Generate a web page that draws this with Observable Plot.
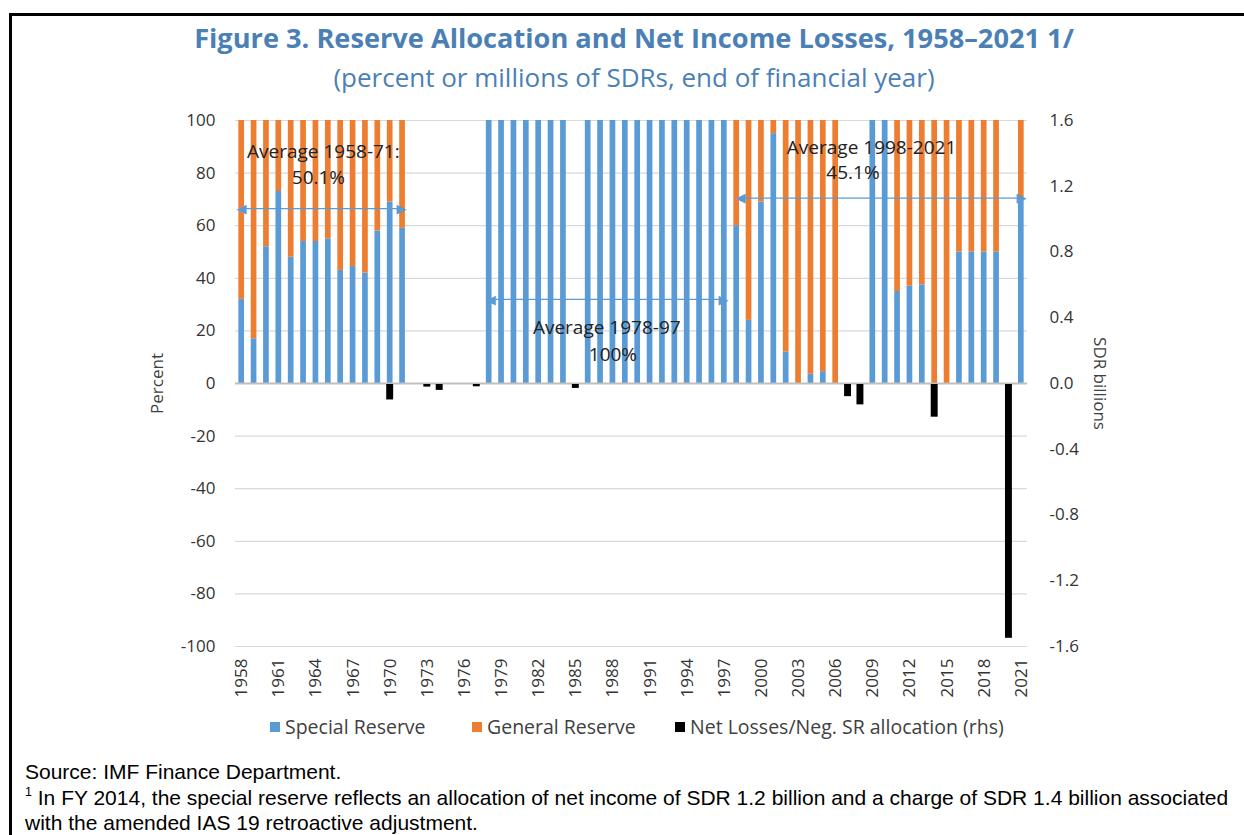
<!DOCTYPE html>
<html>
<head>
<meta charset="utf-8">
<script src="https://cdn.jsdelivr.net/npm/d3@7"></script>
<script src="https://cdn.jsdelivr.net/npm/@observablehq/plot@0.6"></script>
<style>
  html, body { margin: 0; padding: 0; background: #fff; }
  body { width: 1244px; height: 835px; position: relative; overflow: hidden; font-family: "Open Sans", "Noto Sans", sans-serif; }
  .frame { position: absolute; left: 9px; top: 13px; width: 1240px; height: 830px; border-top: 3px solid #000; border-left: 3px solid #000; }
  .title { position: absolute; left: 0; width: 1268px; top: 19px; text-align: center; color: #4a80b5; font-weight: 700; font-size: 27.2px; line-height: 38px; }
  .subtitle { position: absolute; left: 0; width: 1268px; top: 59px; text-align: center; color: #4a80b5; font-size: 26px; line-height: 36px; }
  #chart { position: absolute; left: 0; top: 100px; }
  .ylab { position: absolute; font-size: 17px; color: #404040; white-space: nowrap; }
  .legend { position: absolute; top: 713px; font-size: 19.5px; line-height: 28px; color: #404040; white-space: nowrap; }
  .legend span.sw { display: inline-block; width: 10px; height: 10px; margin-right: 5px; vertical-align: 2px; }
  .note { position: absolute; left: 25px; font-family: "Liberation Sans", Arial, sans-serif; font-size: 21px; line-height: 25px; color: #000; white-space: nowrap; }
  .note sup { font-size: 12.5px; vertical-align: 9px; line-height: 0; }
</style>
</head>
<body>
<div class="frame"></div>
<div class="title">Figure 3. Reserve Allocation and Net Income Losses, 1958–2021 1/</div>
<div class="subtitle">(percent or millions of SDRs, end of financial year)</div>
<div id="chart"></div>
<div class="ylab" style="left:126px; top:372px; transform: rotate(-90deg); transform-origin: center;">Percent</div>
<div class="ylab" style="left:1054px; top:372px; transform: rotate(90deg); transform-origin: center;">SDR billions</div>
<div class="legend" style="left:270px;"><span class="sw" style="background:#5b9bd5"></span>Special Reserve</div>
<div class="legend" style="left:472px;"><span class="sw" style="background:#ed7d31"></span>General Reserve</div>
<div class="legend" style="left:675px;"><span class="sw" style="background:#000"></span>Net Losses/Neg. SR allocation (rhs)</div>
<div class="note" style="top:759px;">Source: IMF Finance Department.</div>
<div class="note" style="top:785px;"><sup>1</sup> In FY 2014, the special reserve reflects an allocation of net income of SDR 1.2 billion and a charge of SDR 1.4 billion associated<br>with the amended IAS 19 retroactive adjustment.</div>
<script>
// ---- data ----
const years = d3.range(1958, 2022);
// Special Reserve share of net income allocation (percent)
const specialReserve = [
  32, 17, 52, 73, 48, 54, 54, 55, 43, 44.5, 42, 58, 69, 59, // 1958-1971
  0, 0, 0, 0, 0, 0,                                          // 1972-1977
  100, 100, 100, 100, 100, 100, 100,                         // 1978-1984
  0,                                                         // 1985
  100, 100, 100, 100, 100, 100, 100, 100, 100, 100, 100, 100, // 1986-1997
  60, 24, 69, 95, 12, 0, 3.5, 4.5, 0, 0, 0,                  // 1998-2008
  100, 100, 35, 37, 37.5, 0, 0, 50, 50, 50, 50, 0, 70        // 2009-2021
];
// General Reserve share (percent)
const generalReserve = [
  68, 83, 48, 27, 52, 46, 46, 45, 57, 55.5, 58, 42, 31, 41,
  0, 0, 0, 0, 0, 0,
  0, 0, 0, 0, 0, 0, 0,
  0,
  0, 0, 0, 0, 0, 0, 0, 0, 0, 0, 0, 0,
  40, 76, 31, 5, 88, 100, 96.5, 95.5, 100, 0, 0,
  0, 0, 65, 63, 62.5, 100, 100, 50, 50, 50, 50, 0, 30
];
// Net losses / negative SR allocation (SDR billions, rhs)
const netLosses = [
  0, 0, 0, 0, 0, 0, 0, 0, 0, 0, 0, 0, -0.1, 0,
  0, -0.022, -0.042, -0.004, -0.004, -0.02,
  0, 0, 0, 0, 0, 0, 0,
  -0.03,
  0, 0, 0, 0, 0, 0, 0, 0, 0, 0, 0, 0,
  0, 0, 0, 0, 0, -0.005, 0, 0, 0, -0.08, -0.13,
  0, 0, 0, 0, 0, -0.205, 0, 0, 0, 0, 0, -1.55, 0
];
const leftTicks = [100, 80, 60, 40, 20, 0, -20, -40, -60, -80, -100];
const rightTicks = [1.6, 1.2, 0.8, 0.4, 0.0, -0.4, -0.8, -1.2, -1.6];
const xTicks = d3.range(1958, 2022, 3);
const rhsMax = 1.6;     // rhs axis maximum (SDR billions) corresponding to 100 percent

// annotations: text labels and average arrows (year, percent)
const annoText = [
  {x: 1964.6, y: 88.2, text: "Average 1958-71:"},
  {x: 1964.2, y: 78, text: "50.1%"},
  {x: 1987.5, y: 21.3, text: "Average 1978-97"},
  {x: 1988.0, y: 11, text: "100%"},
  {x: 2008.9, y: 89.7, text: "Average 1998-2021"},
  {x: 2007.4, y: 80.2, text: "45.1%"}
];
const avgArrows = [
  {x1: 1957.66, x2: 1971.24, y: 66.5},
  {x1: 1977.8, x2: 1997.26, y: 32},
  {x1: 1997.98, x2: 2021.34, y: 70.5}
];

// ---- build table ----
const table = years.map((year, i) => ({
  year, special: specialReserve[i], general: generalReserve[i], net: netLosses[i]
}));
const toPct = v => v / rhsMax * 100;

const blue = "#5b9bd5", orange = "#ed7d31";
const hw = 0.23, hwb = 0.28;

const chart = Plot.plot({
  width: 1244, height: 620,
  marginLeft: 235, marginRight: 217, marginTop: 20, marginBottom: 74,
  style: {fontFamily: "'Open Sans', 'Noto Sans', sans-serif", fontSize: "17px", color: "#404040", background: "transparent"},
  x: {domain: [1957.5, 2021.5]},
  y: {domain: [-100, 100]},
  marks: [
    Plot.gridY(leftTicks.filter(d => d !== 0), {stroke: "#d9d9d9", strokeOpacity: 1, strokeWidth: 1.2}),
    Plot.rect(table.filter(d => d.special > 0), {x1: d => d.year - hw, x2: d => d.year + hw, y1: 0, y2: "special", fill: blue}),
    Plot.rect(table.filter(d => d.general > 0), {x1: d => d.year - hw, x2: d => d.year + hw, y1: "special", y2: d => d.special + d.general, fill: orange}),
    Plot.ruleY([0], {stroke: "#bfbfbf", strokeWidth: 2}),
    Plot.rect(table.filter(d => d.net < 0), {x1: d => d.year - hwb, x2: d => d.year + hwb, y1: 0, y2: d => toPct(d.net), fill: "#000", insetTop: 1}),
    Plot.axisY({ticks: leftTicks, tickFormat: d => String(d), tickSize: 0, tickPadding: 20, label: null, anchor: "left", fill: "#333"}),
    Plot.axisY({ticks: rightTicks.map(toPct), tickFormat: d => (d / 100 * rhsMax).toFixed(1), tickSize: 0, tickPadding: 22, label: null, anchor: "right", fill: "#333"}),
    Plot.axisX({ticks: xTicks, tickFormat: d => String(d), tickSize: 0, tickPadding: 12, tickRotate: -90, label: null, fill: "#333"}),
    // average arrows
    Plot.ruleY(avgArrows, {x1: d => d.x1 + 0.5, x2: d => d.x2 - 0.5, y: "y", stroke: blue, strokeWidth: 1.3}),
    Plot.text(avgArrows, {x: "x1", y: "y", text: () => "◀", fill: blue, fontSize: 13, textAnchor: "start", fontFamily: "DejaVu Sans", dx: -1}),
    Plot.text(avgArrows, {x: "x2", y: "y", text: () => "▶", fill: blue, fontSize: 13, textAnchor: "end", fontFamily: "DejaVu Sans", dx: 1}),
    Plot.text(annoText, {x: "x", y: "y", text: "text", fontSize: 19, fill: "#222"})
  ]
});
document.getElementById("chart").appendChild(chart);
</script>
</body>
</html>
